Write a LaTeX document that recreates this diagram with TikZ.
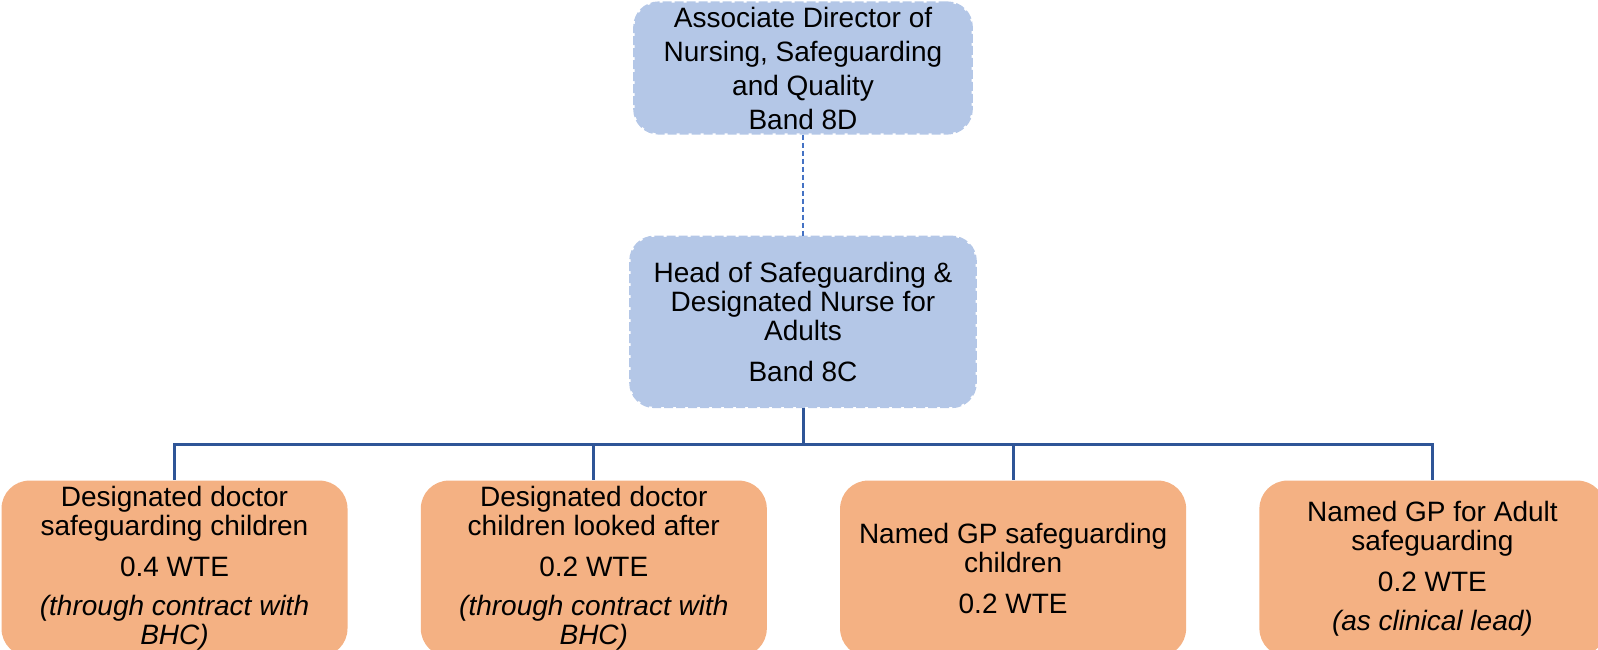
\documentclass[tikz,border=0pt]{standalone}
\usepackage{fontspec}
\setmainfont{Liberation Sans}
\usetikzlibrary{positioning}
\definecolor{paleblue}{HTML}{B4C7E7}
\definecolor{peach}{HTML}{F4B183}
\definecolor{navy}{HTML}{2F5597}
\definecolor{linkblue}{HTML}{4472C4}
\tikzset{
  mgr/.style={rectangle, rounded corners=12pt, draw=paleblue, fill=paleblue,
              line width=1.3pt, dash pattern=on 4.5pt off 1.5pt, align=center,
              inner sep=2pt, font=\fontsize{14}{14.5}\selectfont},
  post/.style={rectangle, rounded corners=14pt, fill=peach, align=center,
               minimum width=173pt, minimum height=88pt, inner sep=2pt,
               font=\fontsize{14}{14.5}\selectfont},
  tie/.style={draw=navy, line width=1.5pt},
  dotlink/.style={draw=linkblue, line width=0.6pt, dash pattern=on 2.5pt off 1.5pt},
}

\begin{document}
\begin{tikzpicture}
  \useasboundingbox (0,0) rectangle (799pt,-324.5pt);
  \clip (0,0) rectangle (799pt,-324.5pt);

  \node[mgr, minimum width=168.5pt, minimum height=62.5pt,
        font=\fontsize{14}{17}\selectfont] (assoc) at (401.5pt,-34pt)
        {Associate Director of\\Nursing, Safeguarding\\and Quality\\Band 8D};
  \node[mgr, below=50.5pt of assoc, minimum width=172.5pt, minimum height=85pt] (hd)
        {Head of Safeguarding \&\\Designated Nurse for\\Adults\\[6pt]Band 8C};

  \node[post, below=36pt of hd, xshift=-104.6pt] (b2)
        {Designated doctor\\children looked after\\[6pt]0.2 WTE\\[5pt]\textit{(through contract with}\\\textit{BHC)}};
  \node[post, left=36.25pt of b2] (b1)
        {Designated doctor\\safeguarding children\\[6pt]0.4 WTE\\[5pt]\textit{(through contract with}\\\textit{BHC)}};
  \node[post, right=36.25pt of b2] (b3)
        {Named GP safeguarding\\children\\[6pt]0.2 WTE};
  \node[post, right=36.25pt of b3] (b4)
        {Named GP for Adult\\safeguarding\\[6pt]0.2 WTE\\[5pt]\textit{(as clinical lead)}};

  \draw[dotlink] (assoc) -- (hd);
  \foreach \b in {b1,b2,b3,b4}
    \draw[tie] (hd.south) -- ++(0,-18pt) -| (\b.north);
\end{tikzpicture}
\end{document}
